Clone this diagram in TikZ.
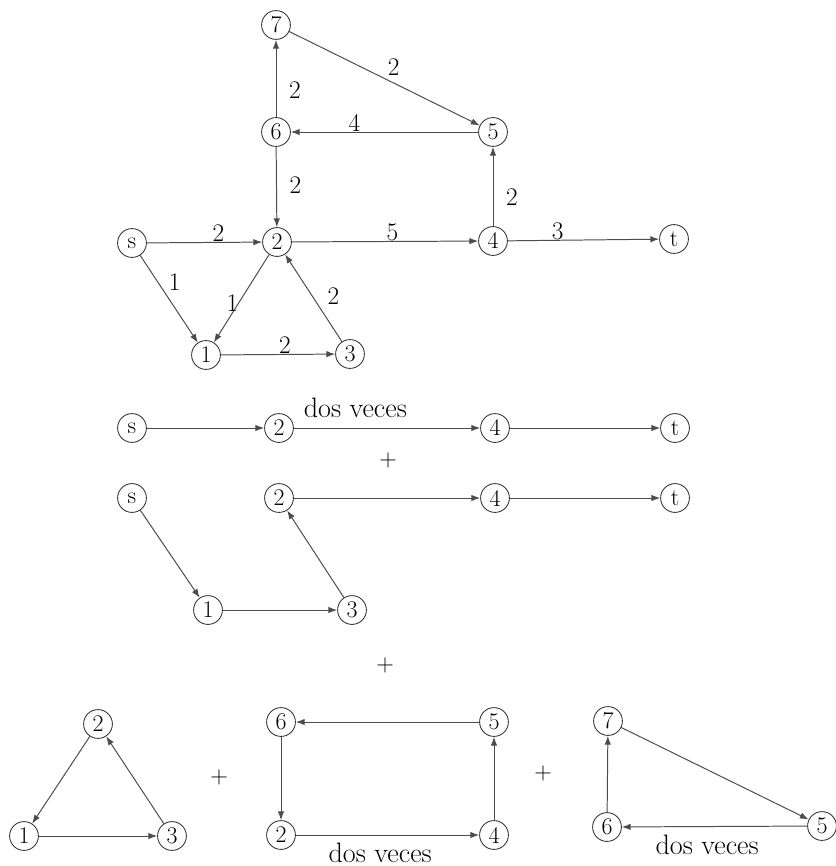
\documentclass[tikz,border=0pt]{standalone}
\usepackage{fontspec}
\usepackage{tikz}
\usetikzlibrary{positioning, calc, arrows.meta}

\begin{document}
\begin{tikzpicture}[x=0.025cm, y=-0.025cm, >={Latex[length=2.2mm,width=1.6mm]}, font=\fontsize{18}{21}\selectfont]

    % Styles for vertices, arcs and weights
    \tikzset{
        vertex/.style={circle, draw=black!80, line width=0.6pt, minimum size=0.72cm, inner sep=0pt, font=\fontsize{17}{20}\selectfont},
        arc/.style={->, draw=black!70, line width=0.7pt},
        plussign/.style={inner sep=0pt},
        times/.style={inner sep=0pt, font=\fontsize{20}{24}\selectfont}
    }
    \useasboundingbox (0,0) rectangle (835,866);

    % ==========================================
    % Full network with weights
    % ==========================================
    \begin{scope}
        % Vertices
        \node[vertex] (s)  at (132,243) {s};
        \node[vertex] (n1) at (206,355) {1};
        \node[vertex] (n2) at (277,242) {2};
        \node[vertex] (n3) at (350,354) {3};
        \node[vertex] (n4) at (493,241) {4};
        \node[vertex] (t)  at (674,239) {t};
        \node[vertex] (n5) at (493,132) {5};
        \node[vertex] (n6) at (276,132) {6};
        \node[vertex] (n7) at (276,25) {7};

        % Arcs
        \draw[arc] (s) -- node[pos=0.62, above, inner sep=0pt] {2} (n2);
        \draw[arc] (n2) -- node[pos=0.54, above, inner sep=0pt] {5} (n4);
        \draw[arc] (n4) -- node[pos=0.33, above, inner sep=0pt] {3} (t);
        \draw[arc] (n4) -- node[pos=0.36, right=9pt, inner sep=0pt] {2} (n5);
        \draw[arc] (n5) -- node[pos=0.66, above, inner sep=0pt] {4} (n6);
        \draw[arc] (n6) -- node[pos=0.35, right=9pt, inner sep=0pt] {2} (n7);
        \draw[arc] (n7) -- node[pos=0.5, above right, inner sep=2pt] {2} (n5);
        \draw[arc] (n6) -- node[pos=0.48, right=9pt, inner sep=0pt] {2} (n2);
        \draw[arc] (s) -- node[pos=0.44, above right, inner sep=2pt] {1} (n1);
        \draw[arc] (n2) -- node[pos=0.55, left, inner sep=0pt] {1} (n1);
        \draw[arc] (n1) -- node[pos=0.56, above, inner sep=0pt] {2} (n3);
        \draw[arc] (n3) -- node[pos=0.36, above right, inner sep=4pt] {2} (n2);
    \end{scope}

    % ==========================================
    % Path s-2-4-t, twice
    % ==========================================
    \begin{scope}[shift={(0,428)}]
        \node[vertex] (as) at (132,0) {s};
        \node[vertex] (a2) at (279,0) {2};
        \node[vertex] (a4) at (495,0) {4};
        \node[vertex] (at) at (675,0) {t};

        \draw[arc] (as) -- (a2);
        \draw[arc] (a2) -- node[times, pos=0.33, above=7pt] {dos veces} (a4);
        \draw[arc] (a4) -- (at);
    \end{scope}

    \node[plussign] (plusA) at (388,460) {$+$};

    % ==========================================
    % Path s-1-3-2-4-t
    % ==========================================
    \begin{scope}[shift={(0,498)}]
        \node[vertex] (bs) at (132,0) {s};
        \node[vertex] (b2) at (279,0) {2};
        \node[vertex] (b4) at (495,0) {4};
        \node[vertex] (bt) at (675,0) {t};
        \node[vertex] (b1) at (208,112) {1};
        \node[vertex] (b3) at (352,112) {3};

        \draw[arc] (bs) -- (b1);
        \draw[arc] (b1) -- (b3);
        \draw[arc] (b3) -- (b2);
        \draw[arc] (b2) -- (b4);
        \draw[arc] (b4) -- (bt);
    \end{scope}

    \node[plussign] (plusB) at (385,665) {$+$};

    % ==========================================
    % Cycles
    % ==========================================
    % Cycle 2-1-3
    \node[vertex] (c2) at (98,724) {2};
    \node[vertex] (c1) at (24,836) {1};
    \node[vertex] (c3) at (172,836) {3};
    \draw[arc] (c2) -- (c1);
    \draw[arc] (c1) -- (c3);
    \draw[arc] (c3) -- (c2);

    \node[plussign] (plusC) at (219,777) {$+$};

    % Cycle 6-2-4-5
    \node[vertex] (d6) at (281,722) {6};
    \node[vertex] (d5) at (494,722) {5};
    \node[vertex] (d2) at (281,835) {2};
    \node[vertex] (d4) at (494,835) {4};
    \draw[arc] (d5) -- (d6);
    \draw[arc] (d6) -- (d2);
    \draw[arc] (d2) -- node[times, pos=0.46, below=5pt] {dos veces} (d4);
    \draw[arc] (d4) -- (d5);

    \node[plussign] (plusD) at (543,773) {$+$};

    % Cycle 6-7-5
    \node[vertex] (e7) at (608,721) {7};
    \node[vertex] (e6) at (607,827) {6};
    \node[vertex] (e5) at (822,826) {5};
    \draw[arc] (e6) -- (e7);
    \draw[arc] (e7) -- (e5);
    \draw[arc] (e5) -- node[times, pos=0.54, below=6pt] {dos veces} (e6);

\end{tikzpicture}
\end{document}
